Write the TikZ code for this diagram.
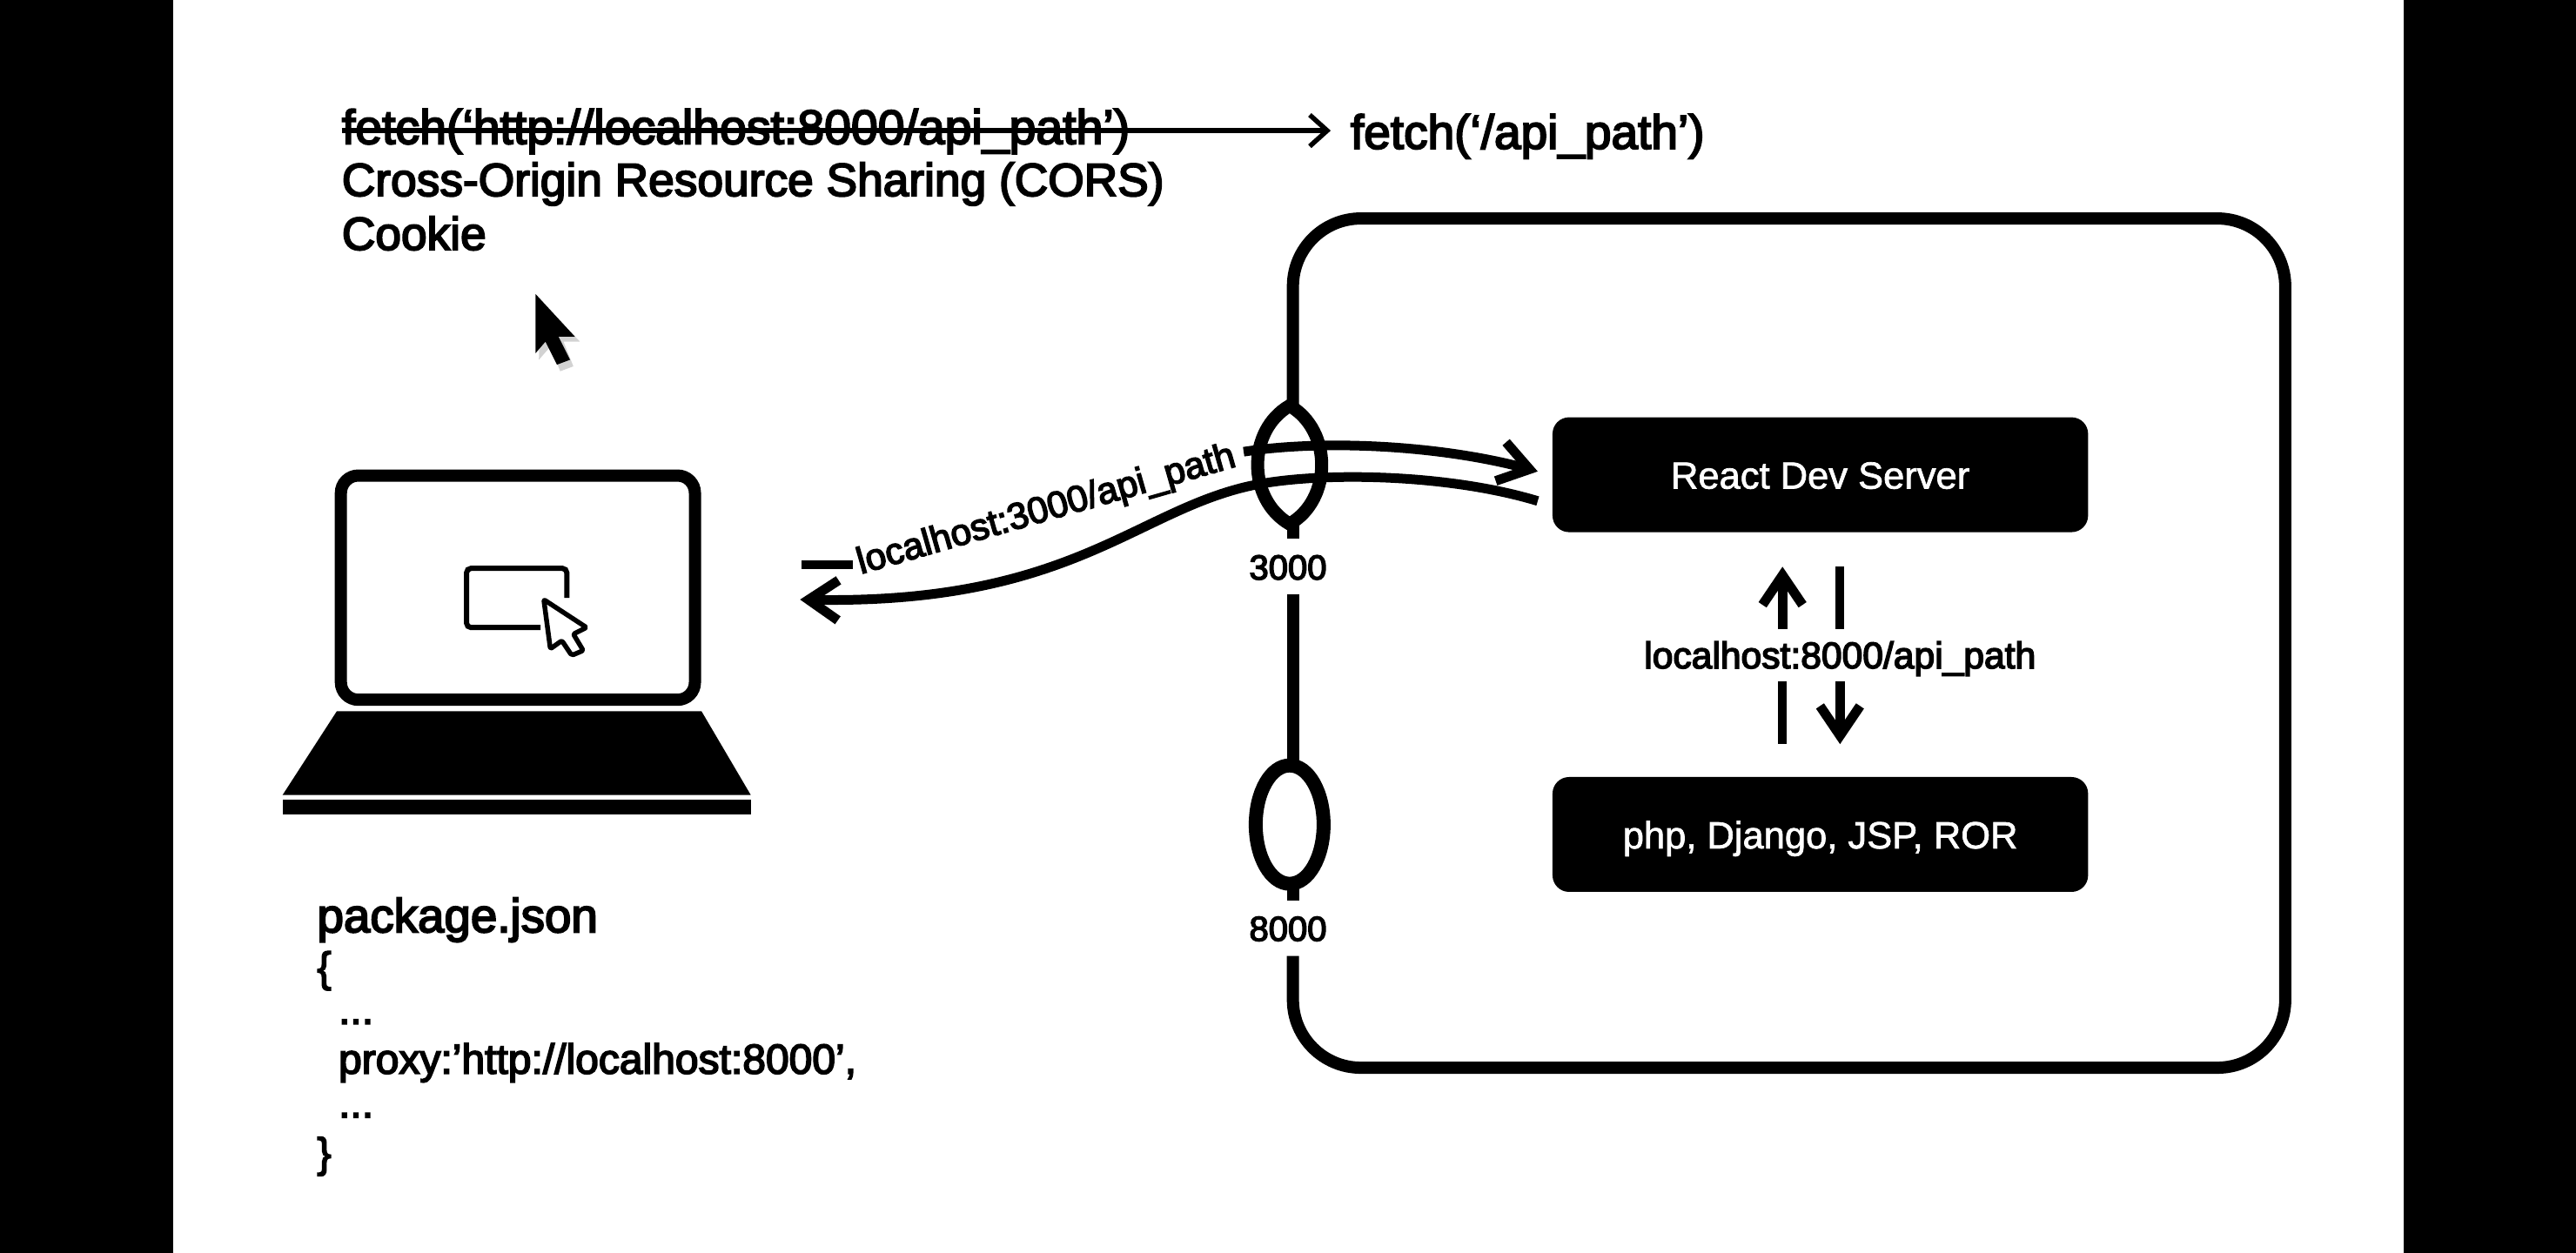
\documentclass[tikz,border=0pt]{standalone}
\usepackage{fontspec}
\setmainfont{Liberation Sans}[FakeBold=3.6]
\newfontfamily\whitefont{Liberation Sans}[FakeBold=1.6]
\usetikzlibrary{arrows.meta,shapes.geometric}
\tikzset{
  label main/.style={inner sep=0pt,anchor=west,font=\fontsize{53.3}{53}\selectfont},
  label code/.style={inner sep=0pt,anchor=west,font=\fontsize{48}{48}\selectfont},
  label small/.style={inner sep=0pt,font=\fontsize{42.6}{43}\selectfont},
  serverbox/.style={fill=black,rounded corners=19pt,minimum width=615.4pt,minimum height=132pt,inner sep=0pt,text=white,font=\whitefont\fontsize{43.5}{43}\selectfont},
  thick line/.style={line width=14pt},
  arrow line/.style={line width=11pt,-{Straight Barb[length=34pt,width=46pt,line width=11pt]}},
  plain line/.style={line width=10pt},
  port/.style={draw=black,line width=16pt,ellipse,minimum width=78pt,minimum height=136pt,inner sep=0pt},
}
\begin{document}
\begin{tikzpicture}[x=1.8878pt,y=-1.8878pt]
\useasboundingbox (0,0) rectangle (1568,762.8);
\fill[black] (0,0) rectangle (1568,762.8);
\fill[white] (105.5,0) rectangle (1463,762.8);

% top text
\node[label main,font=\fontsize{55.4}{55}\selectfont] (fetchold) at (208,80) {fetch(‘http://localhost:8000/api\_path’)};
\node[label main,font=\fontsize{55}{55}\selectfont] (fetchnew) at (822,83) {fetch(‘/api\_path’)};
\node[label main] (cors) at (208,112) {Cross-Origin Resource Sharing (CORS)};
\node[label main] (cookie) at (208,142) {Cookie};
\coordinate (strike) at (208,79.5);
\coordinate (strikeend) at (810,79.5);
\draw[line width=5.5pt,-{Straight Barb[length=20pt,width=36pt,line width=5.5pt]}] (strike) -- (strikeend);

% mouse pointer
\fill[black!35,opacity=.5] (329,183) -- (353,208) -- (343,208) -- (349,223) -- (341,226) -- (335,211) -- (328,219) -- cycle;
\fill[black] (326,179) -- (350,205) -- (340,205) -- (347,219) -- (339,222) -- (332,208) -- (326,215) -- cycle;

% server outline
\draw[thick line,rounded corners=78pt,line cap=butt] (787,582) -- (787,650) -- (1391,650) -- (1391,133) -- (787,133) -- (787,248);
\draw[thick line] (787,362) -- (787,464);
\draw[thick line] (787,540) -- (787,548);
\draw[thick line] (787,316) -- (787,328);

\coordinate (lenstop) at (785,247);
\coordinate (lensbot) at (785,319);
\draw[line width=15pt] (lenstop) .. controls (759,262) and (759,304) .. (lensbot) .. controls (811,304) and (811,262) .. (lenstop) -- cycle;
\node[port] (p8000) at (785,502) {};
\node[label small,font=\fontsize{40}{40}\selectfont] (l3000) at (784,345.5) {3000};
\node[label small,font=\fontsize{40}{40}\selectfont] (l8000) at (784,565.5) {8000};

% servers
\node[serverbox] (react) at (1108,289) {\smash{\raisebox{-16pt}{React Dev Server}}};
\node[serverbox] (php) at (1108,508) {\smash{\raisebox{-16pt}{php, Django, JSP, ROR}}};

% connection between servers
\node[label small] (api8000) at (1120,401) {localhost:8000/api\_path};
\coordinate (upbot) at (1085,383);
\coordinate (uptop) at (1085,345);
\coordinate (upbelowa) at (1085,415);
\coordinate (upbelowb) at (1085,453);
\coordinate (dnbot) at (1120,383);
\coordinate (dntop) at (1120,345);
\coordinate (dnbelowa) at (1120,415);
\coordinate (dnbelowb) at (1120,453);
\draw[arrow line] (upbot) -- (uptop);
\draw[plain line] (dntop) -- (dnbot);
\draw[plain line] (upbelowa) -- (upbelowb);
\draw[arrow line] (dnbelowa) -- (dnbelowb);

% curves to the laptop
\coordinate (reqstart) at (757,275);
\coordinate (reqend) at (936,287);
\coordinate (resstart) at (936,305);
\coordinate (resend) at (487,365);
\coordinate (stubl) at (488,344);
\coordinate (stubr) at (519,344);
\draw[arrow line] (reqstart) .. controls (810,267) and (880,272) .. (reqend);
\draw[arrow line] (resstart) .. controls (880,288) and (800,287) .. (760,296) .. controls (690,312) and (650,368) .. (resend);
\draw[plain line] (stubl) -- (stubr);
\node[label small,rotate=16] (api3000) at (637,311) {localhost:3000/api\_path};

% laptop
\draw[line width=14pt,rounded corners=20pt] (207.5,289.5) rectangle (423,426);
\fill[black] (205,433) -- (427,433) -- (457,484) -- (172,484) -- cycle;
\fill[black] (172,487) rectangle (457,496);
\draw[line width=6pt,rounded corners=5pt] (329,382) -- (284,382) -- (284,346) -- (345,346) -- (345,364);
\draw[line width=5.5pt,fill=white,rounded corners=2pt,line join=round] (331,365) -- (357,382) -- (349,386) -- (355,396) -- (348,399) -- (342,390) -- (335,395) -- cycle;

% package.json
\node[label main,font=\fontsize{54.7}{55}\selectfont] (pkg) at (193,560) {package.json};
\node[label code] (open) at (193,591) {\{};
\node[label code] (dotsa) at (206,622) {...};
\node[label code] (proxy) at (206,647) {proxy:’http://localhost:8000’,};
\node[label code] (dotsb) at (206,679) {...};
\node[label code] (close) at (193,704) {\}};
\end{tikzpicture}
\end{document}
